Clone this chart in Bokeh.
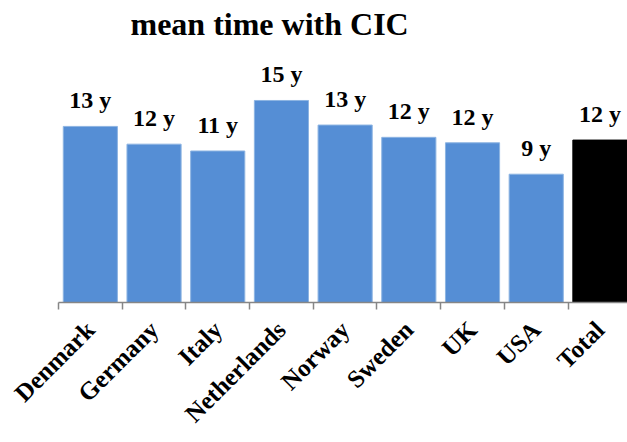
import math
from bokeh.plotting import figure
from bokeh.models import ColumnDataSource, FixedTicker, Range1d
from bokeh.core.properties import value
from bokeh.embed import file_html
from bokeh.resources import INLINE

countries = ["Denmark", "Germany", "Italy", "Netherlands", "Norway",
             "Sweden", "UK", "USA", "Total"]
mean_years = [12.9, 11.6, 11.1, 14.8, 13.0, 12.1, 11.7, 9.4, 11.9]
value_labels = ["13 y", "12 y", "11 y", "15 y", "13 y", "12 y", "12 y", "9 y", "12 y"]

xs = list(range(len(countries)))
fill = ["#000000" if c == "Total" else "#558ED5" for c in countries]
edge = ["#000000" if c == "Total" else "#8DB4E2" for c in countries]

src = ColumnDataSource(dict(x=xs, years=mean_years, label=value_labels,
                            fill=fill, edge=edge))

FONT = "Liberation Serif"
TOP = 44
BOTTOM = 140
PX_PER_YEAR = 13.65
y_end = (442 - TOP - BOTTOM) / PX_PER_YEAR

p = figure(width=627, height=442,
           x_range=Range1d(-0.5, 8.433), y_range=Range1d(0, y_end),
           output_backend="svg", toolbar_location=None,
           min_border_left=58, min_border_right=0,
           min_border_top=TOP, min_border_bottom=BOTTOM)

p.title.text = "mean time with CIC"
p.title.text_font = FONT
p.title.text_font_style = "bold"
p.title.text_font_size = "32px"
p.title.text_color = "#000000"
p.title.align = "left"
p.title.offset = 72
p.title.standoff = 2
p.title.vertical_align = "top"

p.vbar(x="x", top="years", bottom=0, width=0.85, fill_color="fill",
       line_color="edge", line_width=1, source=src)

p.text(x="x", y="years", text="label", text_align="center",
       text_baseline="alphabetic", y_offset=-26,
       text_font=value(FONT), text_font_style="bold",
       text_font_size="24px", text_color="#000000", source=src)

ax = p.xaxis[0]
ax.ticker = FixedTicker(ticks=xs, minor_ticks=[i - 0.5 for i in range(len(countries) + 1)])
ax.major_label_overrides = {i: c for i, c in zip(xs, countries)}
ax.major_label_orientation = math.pi / 4
ax.major_label_standoff = 16
ax.major_tick_line_color = None
ax.minor_tick_line_color = "#868686"
ax.minor_tick_line_width = 1.5
ax.minor_tick_in = 0
ax.minor_tick_out = 7
ax.axis_line_color = "#868686"
ax.axis_line_width = 1.5
ax.major_label_text_font = FONT
ax.major_label_text_font_style = "bold"
ax.major_label_text_font_size = "25px"
ax.major_label_text_color = "#000000"

p.yaxis.visible = False
p.xgrid.visible = False
p.ygrid.visible = False
p.outline_line_color = None

open("out.html", "w").write(file_html(p, INLINE))
